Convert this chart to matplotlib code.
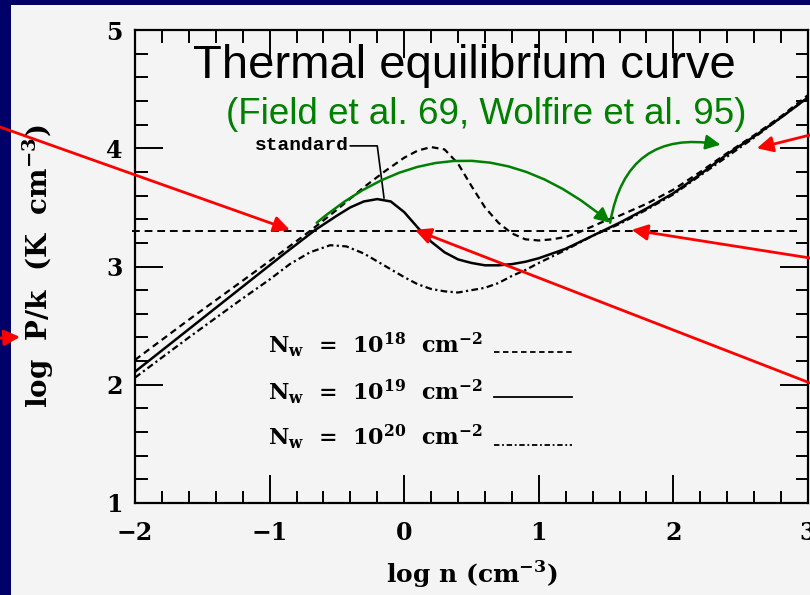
import matplotlib.pyplot as plt
from matplotlib.patches import Rectangle
from matplotlib.ticker import MultipleLocator

# 数据：log n 与 log P/k
x18 = [-2.0, -1.6, -1.2, -0.9, -0.7, -0.5, -0.3, -0.15, 0.0, 0.1, 0.2, 0.3, 0.4, 0.5,
       0.6, 0.7, 0.8, 0.9, 1.0, 1.1, 1.2, 1.3, 1.4, 1.5, 1.6, 1.8, 2.0, 2.2, 2.4, 2.6, 2.8, 3.0]
y18 = [2.21, 2.55, 2.88, 3.13, 3.30, 3.48, 3.67, 3.80, 3.92, 3.98, 4.01, 3.99, 3.87, 3.68,
       3.50, 3.37, 3.28, 3.23, 3.22, 3.23, 3.25, 3.29, 3.34, 3.39, 3.43, 3.53, 3.65, 3.80, 3.96, 4.11, 4.27, 4.45]

x19 = [-2.0, -1.6, -1.2, -0.9, -0.66, -0.5, -0.4, -0.3, -0.2, -0.1, 0.0, 0.1, 0.2, 0.3, 0.4,
       0.5, 0.6, 0.7, 0.8, 0.9, 1.0, 1.2, 1.4, 1.6, 1.8, 2.0, 2.2, 2.4, 2.6, 2.8, 3.0]
y19 = [2.11, 2.47, 2.83, 3.10, 3.31, 3.43, 3.50, 3.55, 3.57, 3.55, 3.46, 3.33, 3.21, 3.12, 3.06,
       3.03, 3.01, 3.01, 3.02, 3.04, 3.07, 3.15, 3.26, 3.37, 3.49, 3.62, 3.78, 3.95, 4.10, 4.26, 4.43]

x20 = [-2.0, -1.6, -1.2, -1.0, -0.85, -0.7, -0.55, -0.43, -0.3, -0.15, 0.0, 0.1, 0.2, 0.3, 0.4,
       0.5, 0.6, 0.7, 0.8, 0.9, 1.0, 1.2, 1.4, 1.6, 1.8, 2.0, 2.2, 2.4, 2.6, 2.8, 3.0]
y20 = [2.06, 2.40, 2.73, 2.89, 3.02, 3.12, 3.18, 3.17, 3.11, 3.01, 2.91, 2.85, 2.81, 2.79, 2.78,
       2.80, 2.82, 2.86, 2.92, 2.97, 3.03, 3.14, 3.26, 3.36, 3.48, 3.61, 3.77, 3.93, 4.09, 4.26, 4.43]

p_eq = 3.3  # 平衡压强
legend_labels = ['N$_\\mathbf{w}$  =  10$^{\\mathbf{18}}$  cm$^{\\mathbf{-2}}$',
                 'N$_\\mathbf{w}$  =  10$^{\\mathbf{19}}$  cm$^{\\mathbf{-2}}$',
                 'N$_\\mathbf{w}$  =  10$^{\\mathbf{20}}$  cm$^{\\mathbf{-2}}$']

plt.rcParams['mathtext.fontset'] = 'custom'
plt.rcParams['mathtext.rm'] = 'DejaVu Serif:bold'
plt.rcParams['mathtext.bf'] = 'DejaVu Serif:bold'

navy = '#000066'
paper = '#f4f4f4'
green = '#008000'
red = '#ff0000'

fig = plt.figure(figsize=(8.1, 5.95), dpi=100, facecolor=navy)
fig.add_artist(Rectangle((11/810, 0), 1 - 11/810, 1 - 5/595, transform=fig.transFigure,
                         facecolor=paper, edgecolor='none', zorder=0))

ax = fig.add_axes([135/810, 1 - 503/595, 673/810, 473/595])
ax.set_facecolor('none')
ax.set_xlim(-2, 3)
ax.set_ylim(1, 5)

ls18 = (0, (3, 2))
ls20 = (0, (3, 1.5, 1, 1.5))
ax.plot(x18, y18, color='k', lw=1.6, linestyle=ls18)
ax.plot(x19, y19, color='k', lw=1.8)
ax.plot(x20, y20, color='k', lw=1.6, linestyle=ls20)

# 平衡压强虚线
ax.plot([-2.02, 2.94], [p_eq, p_eq], color='k', lw=1.4, linestyle=(0, (4, 2.5)), clip_on=False)

# 刻度
ax.xaxis.set_major_locator(MultipleLocator(1))
ax.xaxis.set_minor_locator(MultipleLocator(0.2))
ax.yaxis.set_major_locator(MultipleLocator(1))
ax.yaxis.set_minor_locator(MultipleLocator(0.2))
ax.tick_params(which='both', direction='in', top=True, right=True, width=1.4)
ax.tick_params(which='major', length=20)
ax.tick_params(which='minor', length=9)
ax.tick_params(axis='x', pad=13)
ax.tick_params(axis='y', pad=9)
for sp in ax.spines.values():
    sp.set_linewidth(1.6)
for lab in ax.get_xticklabels() + ax.get_yticklabels():
    lab.set_fontfamily('DejaVu Serif')
    lab.set_fontweight('bold')
    lab.set_fontsize(17)

ax.set_xlabel('log n (cm$^{\\mathbf{-3}}$)', family='DejaVu Serif', weight='bold', fontsize=18, labelpad=10)
ax.set_ylabel('log  P/k  (K  cm$^{\\mathbf{-3}}$)', family='DejaVu Serif', weight='bold', fontsize=20,
              labelpad=36)

# 图例
leg_y = [2.34, 1.94, 1.56]
line_y = [2.28, 1.90, 1.49]
styles = [ls18, '-', ls20]
for lab, ty, ly, st in zip(legend_labels, leg_y, line_y, styles):
    ax.text(-1.01, ty, lab, family='DejaVu Serif', weight='bold', fontsize=16, va='center')
    ax.plot([0.67, 1.25], [ly, ly], color='k', lw=1.3, linestyle=st)

# standard 标注
ax.text(-0.41, 4.02, 'standard', family='Liberation Mono', weight='bold', fontsize=14,
        ha='right', va='center')
ax.plot([-0.40, -0.20, -0.15], [4.02, 4.02, 3.58], color='k', lw=1.2)

# 标题
ax.text(0.45, 4.59, 'Thermal equilibrium curve', family='Liberation Sans', fontsize=34,
        ha='center', va='baseline', color='k')
ax.text(0.61, 4.205, '(Field et al. 69, Wolfire et al. 95)', family='Liberation Sans',
        fontsize=26.5, ha='center', va='baseline', color=green)

# 绿色弧形箭头
ax.annotate('', xy=(1.53, 3.37), xytext=(-0.65, 3.37),
            arrowprops=dict(arrowstyle='-|>', color=green, lw=1.8, mutation_scale=22,
                            connectionstyle='arc3,rad=-0.42', shrinkA=0, shrinkB=0))
ax.annotate('', xy=(2.35, 4.03), xytext=(1.53, 3.37),
            arrowprops=dict(arrowstyle='-|>', color=green, lw=1.8, mutation_scale=22,
                            connectionstyle='arc3,rad=-0.5', shrinkA=0, shrinkB=0))

# 红色箭头
red_arrows = [((-0.85, 3.31), (0.0, 1 - 127/595)),
              ((2.62, 4.00), (1.0, 1 - 135/595)),
              ((1.69, 3.31), (1.0, 1 - 258/595)),
              ((0.08, 3.31), (1.0, 1 - 383/595))]
for tip, tail in red_arrows:
    ax.annotate('', xy=tip, xycoords='data', xytext=tail, textcoords='figure fraction',
                annotation_clip=False,
                arrowprops=dict(arrowstyle='-|>', color=red, lw=2, mutation_scale=24,
                                shrinkA=0, shrinkB=0))
ax.annotate('', xy=(20/810, 1 - 337/595), xycoords='figure fraction',
            xytext=(0.0, 1 - 338/595), textcoords='figure fraction',
            arrowprops=dict(arrowstyle='-|>', color=red, lw=2, mutation_scale=24,
                            shrinkA=0, shrinkB=0))

plt.savefig('out.png', dpi=100, facecolor=navy)
